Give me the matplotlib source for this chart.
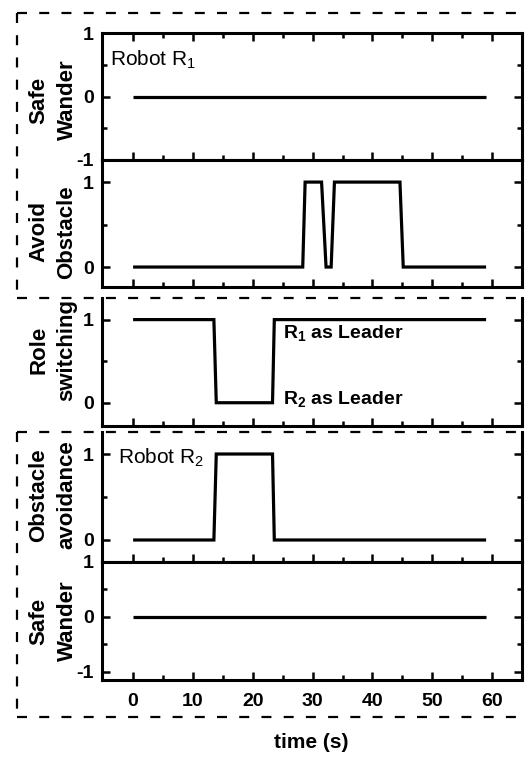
import matplotlib
matplotlib.use('Agg')
import matplotlib.pyplot as plt
from matplotlib.lines import Line2D

plt.rcParams['font.family'] = ['Liberation Sans', 'DejaVu Sans']
plt.rcParams['mathtext.default'] = 'regular'

# ---- data ----
t_wander1 = [0, 59]
y_wander1 = [0, 0]
t_avoid1 = [0, 28.35, 28.75, 31.5, 32.25, 33.1, 33.65, 44.6, 45.15, 59]
y_avoid1 = [0, 0, 1, 1, 0, 0, 1, 1, 0, 0]
t_role = [0, 13.5, 13.9, 23.3, 23.6, 59]
y_role = [1, 1, 0, 0, 1, 1]
t_avoid2 = [0, 13.5, 13.9, 23.3, 23.6, 59]
y_avoid2 = [0, 0, 1, 1, 0, 0]
t_wander2 = [0, 59]
y_wander2 = [0, 0]

x_major = [0, 10, 20, 30, 40, 50, 60]
x_minor = [5, 15, 25, 35, 45, 55]
panel_labels = ["Safe\nWander", "Avoid\nObstacle", "Role\nswitching",
                "Obstacle\navoidance", "Safe\nWander"]

W, H = 527, 760
fig = plt.figure(figsize=(W / 100, H / 100), dpi=100)

panels_px = [(33, 160), (160, 287), (298, 426), (432, 562), (562, 680)]
ylims = [(-1, 1), (-0.235, 1.26), (-0.28, 1.26), (-0.256, 1.256), (-1.15, 1.0)]
yticks = [[-1, 0, 1], [0, 1], [0, 1], [0, 1], [-1, 0, 1]]
yminor = [[-0.5, 0.5], [0.5], [0.5], [0.5], [-0.5, 0.5]]
label_ypx = [100, 232, 350, 495, 621]
series = [(t_wander1, y_wander1), (t_avoid1, y_avoid1), (t_role, y_role),
          (t_avoid2, y_avoid2), (t_wander2, y_wander2)]

left = 102 / W
width = 420 / W
axes = []
for i, ((top, bot), (tt, yy)) in enumerate(zip(panels_px, series)):
    ax = fig.add_axes([left, 1 - bot / H, width, (bot - top) / H])
    ax.plot(tt, yy, color='black', lw=2.3, solid_capstyle='butt',
            solid_joinstyle='miter')
    ax.set_xlim(-5.2, 65)
    ax.set_ylim(*ylims[i])
    ax.set_xticks(x_major)
    ax.set_xticks(x_minor, minor=True)
    ax.set_yticks(yticks[i])
    ax.set_yticks(yminor[i], minor=True)
    ax.set_yticklabels([str(v) for v in yticks[i]], fontsize=14,
                       fontweight='bold')
    for s in ax.spines.values():
        s.set_linewidth(2.2)
    ax.tick_params(which='both', direction='in', left=True, right=True,
                   bottom=True, top=(i == 0), width=1.8)
    ax.tick_params(which='major', length=6, pad=6)
    ax.tick_params(which='minor', length=3.5)
    if i in (2, 3):
        ax.spines['top'].set_visible(False)
    if i < 4:
        ax.tick_params(labelbottom=False)
    else:
        ax.set_xticklabels([str(v) for v in x_major], fontsize=14,
                           fontweight='bold')
        ax.tick_params(axis='x', pad=9)
    fig.text(53 / W, 1 - label_ypx[i] / H, panel_labels[i], rotation=90,
             ha='center', va='center', multialignment='center',
             fontsize=16, fontweight='bold', linespacing=1.45)
    axes.append(ax)

axes[0].text(-3.9, 0.58, 'Robot R$_1$', fontsize=15, ha='left', va='center')
axes[2].text(25.0, 0.84, 'R$_1$ as Leader', fontsize=14, fontweight='bold',
             ha='left', va='center')
axes[2].text(25.0, 0.04, 'R$_2$ as Leader', fontsize=14, fontweight='bold',
             ha='left', va='center')
axes[3].text(-2.5, 0.95, 'Robot R$_2$', fontsize=15, ha='left', va='center')

fig.text(311 / W, 1 - 743 / H, 'time (s)', fontsize=15, fontweight='bold',
         ha='center', va='center')

# dashed group boxes
dash = dict(color='black', lw=1.6, linestyle=(0, (4.5, 5.5)),
            transform=fig.transFigure)


def seg(x0, y0, x1, y1):
    fig.add_artist(Line2D([x0 / W, x1 / W], [1 - y0 / H, 1 - y1 / H], **dash))


for (top, bot) in [(13, 298), (432, 717)]:
    seg(17, top, W, top)
    seg(17, bot, W, bot)
    seg(17, top, 17, bot)

fig.savefig('out.png', dpi=100)
